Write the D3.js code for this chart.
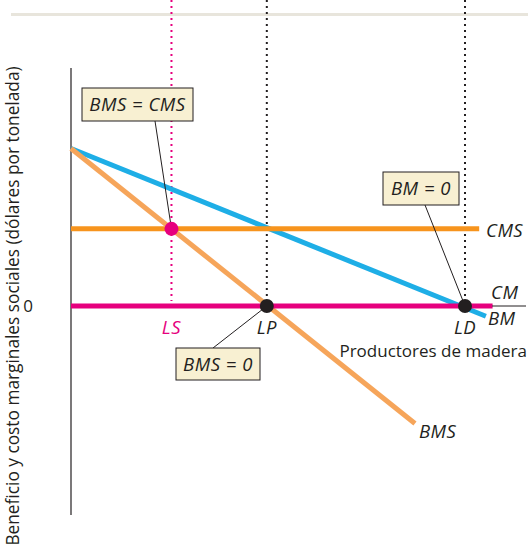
<!DOCTYPE html>
<html>
<head>
<meta charset="utf-8">
<script src="https://cdn.jsdelivr.net/npm/d3@7"></script>
<style>
  html, body { margin: 0; padding: 0; background: #fff; }
  svg { display: block; }
  text { font-family: "Open Sans", "Noto Sans", sans-serif; fill: #231f20; }
  .it { font-style: italic; letter-spacing: 0.5px; }
</style>
</head>
<body>
<div id="chart"></div>
<script>
/* ── datos (unidades de cantidad / dólares por tonelada) ── */
const BMS_LINE = [{ q: 0, v: 100 }, { q: 87.3, v: -74.6 }];   // beneficio marginal social
const BM_LINE  = [{ q: 0, v: 100 }, { q: 105.3, v: -6.5 }];   // beneficio marginal
const CMS_VALUE = 49;
const CMS_RANGE = [0, 103.6];
const CM_RANGE  = [0, 107];
const LS = 25.5, LP = 49.7, LD = 100;

const W = 528, H = 553;
const x = d3.scaleLinear().domain([0, 100]).range([71, 465]);
const y = d3.scaleLinear().domain([0, 100]).range([306, 148.5]);

const svg = d3.select('#chart').append('svg')
  .attr('width', W).attr('height', H);

/* banda superior */
svg.append('rect')
  .attr('x', 11).attr('y', 13).attr('width', W - 11).attr('height', 3)
  .attr('fill', '#e8e5dc');

/* guías punteadas */
const guides = [
  { q: LS, color: '#e6007e', y2: y(0) - 5 },
  { q: LP, color: '#231f20', y2: y(0) },
  { q: LD, color: '#231f20', y2: y(0) }
];
svg.append('g').selectAll('line')
  .data(guides)
  .join('line')
    .attr('x1', d => x(d.q)).attr('x2', d => x(d.q))
    .attr('y1', 0).attr('y2', d => d.y2)
    .attr('stroke', d => d.color)
    .attr('stroke-width', 2)
    .attr('stroke-dasharray', '2,4');

/* eje vertical */
svg.append('line')
  .attr('x1', 71).attr('x2', 71).attr('y1', 68).attr('y2', 515)
  .attr('stroke', '#231f20').attr('stroke-width', 1.2);

const line = d3.line().x(d => x(d.q)).y(d => y(d.v));

/* BM (azul) */
svg.append('path').datum(BM_LINE)
  .attr('d', line).attr('fill', 'none')
  .attr('stroke', '#1eaee6').attr('stroke-width', 5);

/* CMS (naranja) */
svg.append('line')
  .attr('x1', x(CMS_RANGE[0])).attr('x2', x(CMS_RANGE[1]))
  .attr('y1', y(CMS_VALUE)).attr('y2', y(CMS_VALUE))
  .attr('stroke', '#f7941d').attr('stroke-width', 5);

/* BMS (naranja claro) */
svg.append('path').datum(BMS_LINE)
  .attr('d', line).attr('fill', 'none')
  .attr('stroke', '#f6a55a').attr('stroke-width', 5);

/* CM = 0 (magenta) */
svg.append('line')
  .attr('x1', x(CM_RANGE[0])).attr('x2', x(CM_RANGE[1]))
  .attr('y1', y(0)).attr('y2', y(0))
  .attr('stroke', '#e6007e').attr('stroke-width', 5);

/* líneas guía de los recuadros */
const leaders = [
  { x1: 155, y1: 121, q: LS, v: CMS_VALUE },
  { x1: 425, y1: 205, q: LD, v: 0 },
  { x1: 213, y1: 348, q: LP, v: 0 }
];
svg.append('g').selectAll('line')
  .data(leaders)
  .join('line')
    .attr('x1', d => d.x1).attr('y1', d => d.y1)
    .attr('x2', d => x(d.q)).attr('y2', d => y(d.v))
    .attr('stroke', '#231f20').attr('stroke-width', 1);

/* puntos */
svg.append('circle')
  .attr('cx', x(LS)).attr('cy', y(CMS_VALUE)).attr('r', 7)
  .attr('fill', '#e6007e');
svg.append('g').selectAll('circle')
  .data([LP, LD])
  .join('circle')
    .attr('cx', d => x(d)).attr('cy', y(0)).attr('r', 7)
    .attr('fill', '#231f20');

/* recuadros */
const boxes = [
  { x: 82,  y: 88,  w: 111, h: 33, text: 'BMS = CMS' },
  { x: 383, y: 172, w: 76,  h: 33, text: 'BM = 0' },
  { x: 176, y: 348, w: 84,  h: 32, text: 'BMS = 0' }
];
const bx = svg.append('g').selectAll('g')
  .data(boxes)
  .join('g');
bx.append('rect')
  .attr('x', d => d.x).attr('y', d => d.y)
  .attr('width', d => d.w).attr('height', d => d.h)
  .attr('fill', '#f8f0d2').attr('stroke', '#231f20').attr('stroke-width', 1);
bx.append('text')
  .attr('x', d => d.x + d.w / 2).attr('y', d => d.y + d.h / 2)
  .attr('dy', '0.36em').attr('text-anchor', 'middle')
  .attr('font-size', 18.5).attr('class', 'it')
  .text(d => d.text);

/* etiquetas */
const labels = [
  { x: 486, y: 237, t: 'CMS', c: '#231f20', a: 'start', it: true },
  { x: 491, y: 299, t: 'CM',  c: '#231f20', a: 'start', it: true },
  { x: 488, y: 325, t: 'BM',  c: '#231f20', a: 'start', it: true },
  { x: 419, y: 438, t: 'BMS', c: '#231f20', a: 'start', it: true },
  { x: x(LS), y: 334, t: 'LS', c: '#e6007e', a: 'middle', it: true },
  { x: x(LP), y: 334, t: 'LP', c: '#231f20', a: 'middle', it: true },
  { x: x(LD), y: 334, t: 'LD', c: '#231f20', a: 'middle', it: true }
];
svg.append('g').selectAll('text')
  .data(labels)
  .join('text')
    .attr('x', d => d.x).attr('y', d => d.y)
    .attr('text-anchor', d => d.a)
    .attr('font-size', 18.5)
    .attr('class', 'it')
    .style('fill', d => d.c)
    .text(d => d.t);

svg.append('text')
  .attr('x', 527).attr('y', 357).attr('text-anchor', 'end')
  .attr('font-size', 17)
  .text('Productores de madera');

svg.append('text')
  .attr('x', 28).attr('y', 312).attr('text-anchor', 'middle')
  .attr('font-size', 17)
  .text('0');

/* raya CM / BM */
svg.append('line')
  .attr('x1', 492).attr('x2', 526).attr('y1', y(0)).attr('y2', y(0))
  .attr('stroke', '#231f20').attr('stroke-width', 1);

/* título del eje */
svg.append('text')
  .attr('transform', 'translate(19,306) rotate(-90)')
  .attr('text-anchor', 'middle')
  .attr('font-size', 17.3)
  .text('Beneficio y costo marginales sociales (dólares por tonelada)');
</script>
</body>
</html>
